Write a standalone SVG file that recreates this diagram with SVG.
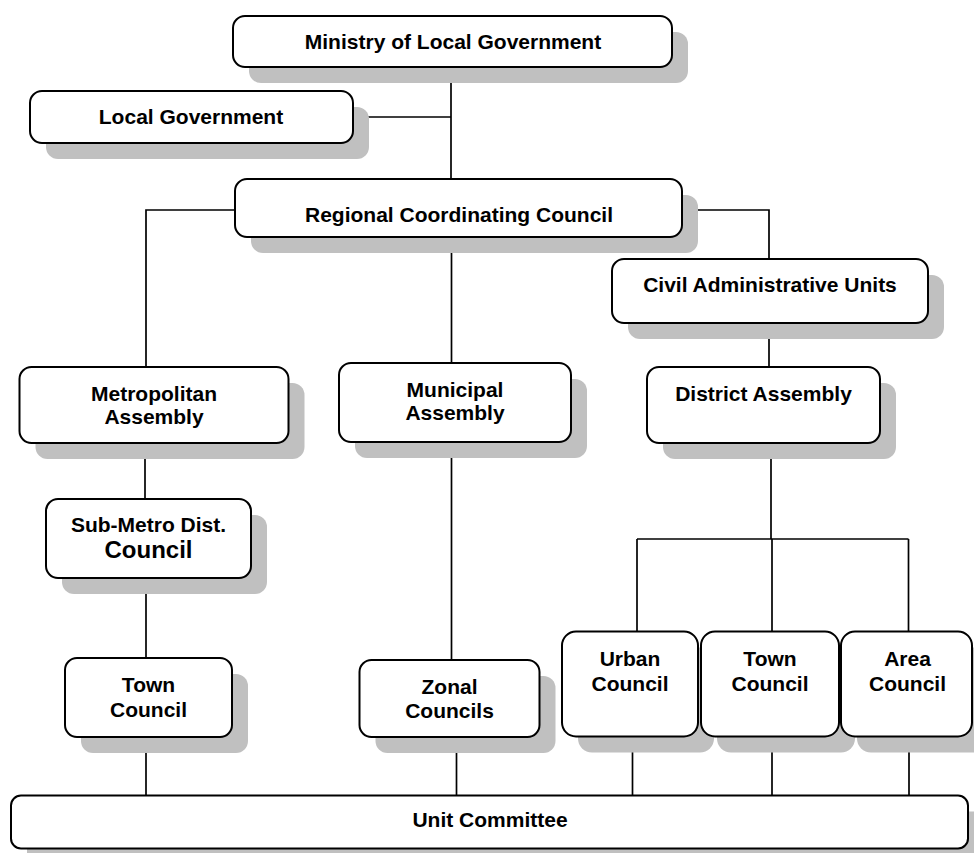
<svg xmlns="http://www.w3.org/2000/svg" width="974" height="853" viewBox="0 0 974 853">
<style>
.sh{fill:#c0c0c0;stroke:none}
.bx{fill:#ffffff;stroke:#000000;stroke-width:2}
.t{font-family:"Liberation Sans",Arial,sans-serif;font-weight:bold;font-size:21px;fill:#000000;text-anchor:middle}
.big{font-size:24px}
.c{fill:none;stroke:#000000;stroke-width:1.7}
</style>
<rect width="974" height="853" fill="#ffffff"/>
<g id="connectors">
<path class="c" d="M451 67V179"/>
<path class="c" d="M353 117H451"/>
<path class="c" d="M235 210H146V367"/>
<path class="c" d="M451.5 237V363"/>
<path class="c" d="M682 210H769V259"/>
<path class="c" d="M769 323V367"/>
<path class="c" d="M145 443V499"/>
<path class="c" d="M146 578V658"/>
<path class="c" d="M146 737V795.5"/>
<path class="c" d="M451.5 442V660"/>
<path class="c" d="M456.5 737V795.5"/>
<path class="c" d="M771 443V539"/>
<path class="c" d="M637 539H908.5"/>
<path class="c" d="M637 539V631.5"/>
<path class="c" d="M772 539V631.5"/>
<path class="c" d="M908.5 539V631.5"/>
<path class="c" d="M632.5 736.5V795.5"/>
<path class="c" d="M772 736.5V795.5"/>
<path class="c" d="M909 736.5V795.5"/>
</g>
<g id="ministry">
<rect class="sh" x="249" y="32" width="439" height="51" rx="12"/>
<rect class="bx" x="233" y="16" width="439" height="51" rx="12"/>
<text class="t" x="453" y="49">Ministry of Local Government</text>
</g>
<g id="local-government">
<rect class="sh" x="46" y="107" width="323" height="52" rx="12"/>
<rect class="bx" x="30" y="91" width="323" height="52" rx="12"/>
<text class="t" x="191" y="123.5">Local Government</text>
</g>
<g id="regional">
<rect class="sh" x="251" y="195" width="447" height="58" rx="12"/>
<rect class="bx" x="235" y="179" width="447" height="58" rx="12"/>
<text class="t" x="459" y="222">Regional Coordinating Council</text>
</g>
<g id="civil">
<rect class="sh" x="628" y="275" width="316" height="64" rx="12"/>
<rect class="bx" x="612" y="259" width="316" height="64" rx="12"/>
<text class="t" x="770" y="292">Civil Administrative Units</text>
</g>
<g id="metropolitan">
<rect class="sh" x="35.5" y="383" width="269" height="76" rx="12"/>
<rect class="bx" x="19.5" y="367" width="269" height="76" rx="12"/>
<text class="t" x="154" y="401">Metropolitan</text>
<text class="t" x="154" y="424">Assembly</text>
</g>
<g id="municipal">
<rect class="sh" x="355" y="379" width="232" height="79" rx="12"/>
<rect class="bx" x="339" y="363" width="232" height="79" rx="12"/>
<text class="t" x="455" y="397">Municipal</text>
<text class="t" x="455" y="420">Assembly</text>
</g>
<g id="district">
<rect class="sh" x="663" y="383" width="233" height="76" rx="12"/>
<rect class="bx" x="647" y="367" width="233" height="76" rx="12"/>
<text class="t" x="763.5" y="401">District Assembly</text>
</g>
<g id="sub-metro">
<rect class="sh" x="62" y="515" width="205" height="79" rx="12"/>
<rect class="bx" x="46" y="499" width="205" height="79" rx="12"/>
<text class="t" x="148.5" y="532">Sub-Metro Dist.</text>
<text class="t big" x="148.5" y="558">Council</text>
</g>
<g id="town-council-left">
<rect class="sh" x="81" y="674" width="167" height="79" rx="12"/>
<rect class="bx" x="65" y="658" width="167" height="79" rx="12"/>
<text class="t" x="148.5" y="692">Town</text>
<text class="t" x="148.5" y="717">Council</text>
</g>
<g id="zonal">
<rect class="sh" x="375.5" y="676" width="180" height="77" rx="12"/>
<rect class="bx" x="359.5" y="660" width="180" height="77" rx="12"/>
<text class="t" x="449.5" y="693.5">Zonal</text>
<text class="t" x="449.5" y="718">Councils</text>
</g>
<g id="urban">
<rect class="sh" x="578" y="647.5" width="136" height="105" rx="14"/>
<rect class="bx" x="562" y="631.5" width="136" height="105" rx="14"/>
<text class="t" x="630" y="666">Urban</text>
<text class="t" x="630" y="691">Council</text>
</g>
<g id="town-council-right">
<rect class="sh" x="717" y="647.5" width="138" height="105" rx="14"/>
<rect class="bx" x="701" y="631.5" width="138" height="105" rx="14"/>
<text class="t" x="770" y="666">Town</text>
<text class="t" x="770" y="691">Council</text>
</g>
<g id="area">
<rect class="sh" x="857" y="647.5" width="131" height="105" rx="14"/>
<rect class="bx" x="841" y="631.5" width="131" height="105" rx="14"/>
<text class="t" x="907.5" y="666">Area</text>
<text class="t" x="907.5" y="691">Council</text>
</g>
<g id="unit-committee">
<rect class="sh" x="27" y="811.5" width="957" height="53" rx="10"/>
<rect class="bx" x="11" y="795.5" width="957" height="53" rx="10"/>
<text class="t" x="490" y="827">Unit Committee</text>
</g>
</svg>
